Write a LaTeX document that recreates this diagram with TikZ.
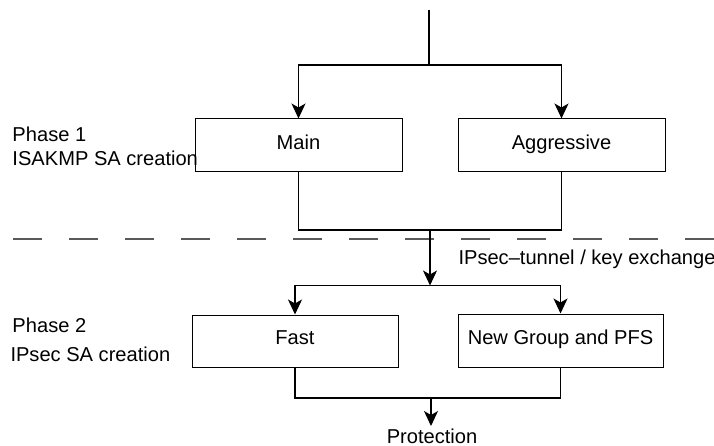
\documentclass[tikz,border=0pt]{standalone}
\usepackage{fontspec}
\setmainfont{Liberation Sans}
\usetikzlibrary{arrows.meta}
\begin{document}
\begin{tikzpicture}[x=1pt,y=-1pt,
  font=\fontsize{20.1}{24}\selectfont,
  line width=1pt,
  modebox/.style={draw, line width=1pt, rectangle, inner sep=0pt,
    text height=0.72em, text depth=0pt},
  flow/.style={line width=1.2pt},
  tip/.style={flow, -{Stealth[length=15pt,width=14pt,inset=4pt]}},
  phaselabel/.style={anchor=base west, inner sep=0pt},
  boundary/.style={black!65, line width=1.2pt, dash pattern=on 28.5pt off 27.5pt}]
  \useasboundingbox (0,0) rectangle (714,446);

  % phase 1 modes
  \node[modebox, minimum width=207pt, minimum height=53pt] (main) at (298.5,145.5) {Main};
  \node[modebox, minimum width=207pt, minimum height=53pt] (aggr) at (561.5,145.5) {Aggressive};

  % phase 2 modes
  \node[modebox, minimum width=206pt, minimum height=52pt] (fast) at (295,341) {Fast};
  \node[modebox, minimum width=205pt, minimum height=53pt] (ngpfs) at (560.5,340.5) {New Group and PFS};

  % side labels
  \node[phaselabel] (p1a) at (12,141.5) {Phase 1};
  \node[phaselabel] (p1b) at (12,165.5) {ISAKMP SA creation};
  \node[phaselabel] (p2a) at (12,332) {Phase 2};
  \node[phaselabel] (p2b) at (10,361) {IPsec SA creation};
  \node[phaselabel] (ipsec) at (458,264) {IPsec–tunnel / key exchange};
  \node[anchor=base, inner sep=0pt] (prot) at (432,443) {Protection};

  % branching and joining points
  \coordinate (entry) at (429,10);
  \coordinate (split1) at (429,65);
  \coordinate (join1) at (430,230);
  \coordinate (split2) at (430,285.5);
  \coordinate (join2) at (431,398);
  \coordinate (protin) at (431,426);

  % phase boundary
  \coordinate (bl) at (13,239);
  \coordinate (br) at (714,239);
  \draw[boundary] (bl) -- (br);

  % connectors
  \draw[flow] (entry) -- (split1);
  \draw[tip] (split1) -| (main.north);
  \draw[tip] (split1) -| (aggr.north);
  \draw[flow] (main.south) |- (join1) -| (aggr.south);
  \draw[tip] (join1) -- (split2);
  \draw[tip] (split2) -| (fast.north);
  \draw[tip] (split2) -| (ngpfs.north);
  \draw[flow] (fast.south) |- (join2) -| (ngpfs.south);
  \draw[tip] (join2) -- (protin);
\end{tikzpicture}
\end{document}
